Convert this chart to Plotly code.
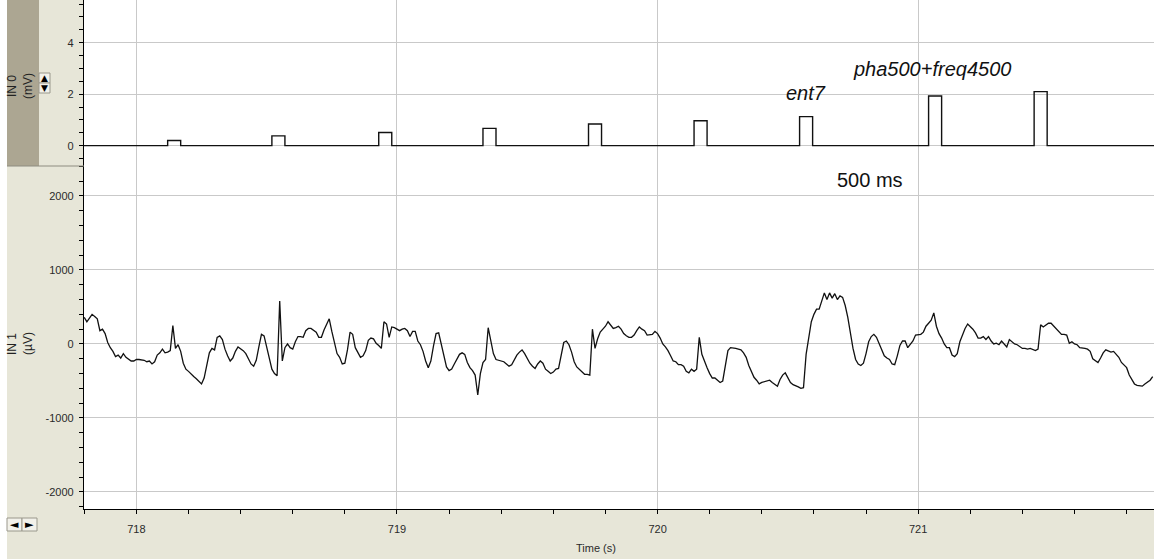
import numpy as np
import plotly.graph_objects as go

# ---- IN 0: stimulus channel (mV) ----
pulse_onsets = [718.12, 718.52, 718.93, 719.33, 719.735, 720.14, 720.545, 721.04, 721.445]
pulse_heights = [0.2, 0.38, 0.51, 0.67, 0.84, 0.97, 1.13, 1.93, 2.1]
pulse_length = 0.05

# ---- IN 1: recorded signal (µV), FS samples per second from T0 ----
T0 = 717.80
FS = 100
in1_uv = [
    360, 300, 350, 400, 370, 340, 180, 200, 140, 20,
    -50, -100, -170, -150, -190, -130, -180, -200, -230, -230,
    -210, -210, -210, -220, -240, -230, -270, -240, -150, -120,
    -70, -120, -110, -90, 250, -60, -10, -100, -260, -340,
    -370, -410, -440, -470, -510, -540, -460, -300, -120, -60,
    -80, 90, 110, 60, -70, -160, -230, -190, -100, -40,
    -60, -90, -130, -210, -270, -300, -220, -40, 130, 110,
    -40, -220, -340, -400, -430, 580, -230, -50, 0, -50,
    -70, 30, 100, 100, 90, 180, 210, 210, 190, 160,
    90, 90, 190, 270, 340, 170, 10, -130, -180, -270,
    -260, -80, 160, 130, -50, -110, -180, -160, -90, 50,
    80, 70, 10, -20, -60, 300, 270, 90, 230, 220,
    200, 180, 200, 210, 180, 100, 170, 170, 40, -10,
    -100, -230, -320, -230, -30, 140, 150, 10, -160, -310,
    -360, -340, -270, -210, -140, -120, -140, -250, -320, -360,
    -420, -690, -400,
    -250, -210, 220, 20, -130, -210, -220,
    -220, -240, -270, -300, -280, -210, -150, -110, -80, -130,
    -200, -260, -300, -330, -270, -230, -260, -340, -370, -400,
    -380, -340, -330, -150, 20, 40, -10, -110, -240, -310,
    -340, -380, -410, -410, -420, 200, -60, 70, 160, 200,
    240, 300, 250, 210, 220, 240, 200, 140, 110, 90,
    90, 120, 180, 230, 200, 180, 120, 130, 130, 170,
    140, 80, 0, -40, -90, -160, -230, -240, -280, -280,
    -300, -370, -390, -340, -370, -340, 90, -140, -240, -320,
    -400, -460, -460, -490, -520, -500, -320, -90, -50, -50,
    -60, -70, -80, -120, -180, -290, -370, -450, -490, -540,
    -520, -510, -500, -490, -520, -540, -570, -480, -420, -390,
    -450, -520, -550, -560, -580, -600, -590, -140, 110, 300,
    400, 470, 470,
    570, 690, 600, 690, 620, 680, 600,
    650, 630, 520, 360, 140, -60, -210, -270, -290, -260,
    -130, 30, 100, 130, 90, 10, -60, -160, -190, -210,
    -270, -280, -160, -20, 40, 40, -50, -10, 40, 120,
    130, 130, 160, 240, 280, 320, 420, 240, 140, 80,
    0, -50, -50, -150, -170, -130, 30, 120, 210, 270,
    240, 200, 150, 80, 80, 100, 60, 100, 40, 0,
    10, -10, 40, 0, -40, 60, 30, 0, -10, -30,
    -60, -60, -70, -60, -70, -90, -70, 260, 230, 260,
    280, 280, 240, 200, 160, 130, 130, 120, 10, 30,
    0, -10, -50, -50, -60, -70, -100, -200, -220, -250,
    -190, -120, -80, -90, -110, -100, -140, -180, -250, -280,
    -320, -420, -480, -540, -560, -570, -570, -540, -520, -490,
    -440,
]

# axis extents and tick labels
t_range = [717.799, 721.905]
in0_range = [-0.79, 5.66]
in1_range = [-2230, 2405]
x_ticks = [718, 719, 720, 721]
x_ticktext = ["718", "719", "720", "721"]
in0_ticks = [0, 2, 4]
in0_ticktext = ["0", "2", "4"]
in1_ticks = [-2000, -1000, 0, 1000, 2000]
in1_ticktext = ["-2000", "-1000", "0", "1000", "2000"]

# build the stimulus step trace from onsets / amplitudes
step_t = [t_range[0]]
step_v = [0.0]
for on, h in zip(pulse_onsets, pulse_heights):
    step_t += [on, on, on + pulse_length, on + pulse_length]
    step_v += [0.0, h, h, 0.0]
step_t.append(t_range[1])
step_v.append(0.0)

t_in1 = T0 + np.arange(len(in1_uv)) / FS

W, H = 1154, 559
ML, MB = 84, 50
plot_h = H - MB
split_px = 166                       # panel boundary from the top
split = (plot_h - split_px) / plot_h

BEIGE = "#E7E6D8"
STRIP = "#ACA692"
GRID = "#C9C9C9"
FONT = "Liberation Sans, Arial, sans-serif"


def px_x(px):
    return (px - ML) / (W - ML)


def px_y(py):
    return (plot_h - py) / plot_h


fig = go.Figure()
fig.add_trace(go.Scatter(x=step_t, y=step_v, mode="lines", xaxis="x2", yaxis="y2",
                         line=dict(color="#111111", width=1.4), hoverinfo="skip"))
fig.add_trace(go.Scatter(x=t_in1, y=in1_uv, mode="lines", xaxis="x", yaxis="y",
                         line=dict(color="#111111", width=1.3), hoverinfo="skip"))

tickfont = dict(family=FONT, size=11, color="#2a2a2a")

fig.update_layout(
    width=W, height=H,
    margin=dict(l=ML, r=0, t=0, b=MB),
    paper_bgcolor=BEIGE, plot_bgcolor="white",
    showlegend=False,
    xaxis=dict(domain=[0, 1], anchor="y", range=t_range,
               tickmode="array", tickvals=x_ticks, ticktext=x_ticktext,
               ticks="outside", ticklen=4, tickcolor="black", tickfont=tickfont,
               ticklabelstandoff=6,
               minor=dict(dtick=0.2, tick0=718, ticks="outside", ticklen=4,
                          tickcolor="black", showgrid=False),
               showgrid=True, gridcolor=GRID, gridwidth=1, zeroline=False,
               showline=True, linecolor="black", linewidth=1.3),
    xaxis2=dict(domain=[0, 1], anchor="y2", matches="x", range=t_range,
                tickmode="array", tickvals=x_ticks, showticklabels=False, ticks="",
                showgrid=True, gridcolor=GRID, gridwidth=1, zeroline=False, showline=False),
    yaxis=dict(domain=[0, split], anchor="x", range=in1_range,
               tickmode="array", tickvals=in1_ticks, ticktext=in1_ticktext,
               ticks="outside", ticklen=4, tickcolor="black", tickfont=tickfont,
               ticklabelstandoff=3,
               minor=dict(dtick=200, tick0=0, ticks="outside", ticklen=4,
                          tickcolor="black", showgrid=False),
               showgrid=True, gridcolor=GRID, gridwidth=1, zeroline=False,
               showline=True, linecolor="black", linewidth=1.3),
    yaxis2=dict(domain=[split, 1], anchor="x2", range=in0_range,
                tickmode="array", tickvals=in0_ticks, ticktext=in0_ticktext,
                ticks="outside", ticklen=4, tickcolor="black", tickfont=tickfont,
                ticklabelstandoff=3,
                minor=dict(dtick=0.5, tick0=0, ticks="outside", ticklen=4,
                           tickcolor="black", showgrid=False),
                showgrid=True, gridcolor=GRID, gridwidth=1, zeroline=False,
                showline=True, linecolor="black", linewidth=1.3),
)

shapes = [
    # white border on the far left
    dict(type="rect", xref="paper", yref="paper", x0=px_x(0), x1=px_x(7),
         y0=px_y(H), y1=1, fillcolor="white", line=dict(width=0), layer="below"),
    # channel-name strip of the IN 0 panel
    dict(type="rect", xref="paper", yref="paper", x0=px_x(7), x1=px_x(39),
         y0=split, y1=1, fillcolor=STRIP, line=dict(width=0), layer="below"),
    # separator between the two channel headers
    dict(type="line", xref="paper", yref="paper", x0=px_x(7), x1=0,
         y0=split, y1=split, line=dict(color="#8E8C80", width=1)),
    # scale buttons
    dict(type="rect", xref="paper", yref="paper", x0=px_x(39), x1=px_x(50),
         y0=px_y(83), y1=px_y(73), fillcolor="#F2F1EA", line=dict(color="#9A988C", width=1)),
    dict(type="rect", xref="paper", yref="paper", x0=px_x(39), x1=px_x(50),
         y0=px_y(93), y1=px_y(83), fillcolor="#F2F1EA", line=dict(color="#9A988C", width=1)),
    # scroll buttons
    dict(type="rect", xref="paper", yref="paper", x0=px_x(7), x1=px_x(22),
         y0=px_y(531), y1=px_y(518), fillcolor="#F2F1EA", line=dict(color="#9A988C", width=1)),
    dict(type="rect", xref="paper", yref="paper", x0=px_x(22), x1=px_x(37),
         y0=px_y(531), y1=px_y(518), fillcolor="#F2F1EA", line=dict(color="#9A988C", width=1)),
]
fig.update_layout(shapes=shapes)

side = dict(family=FONT, size=12, color="#222222")
sym = dict(family="DejaVu Sans", size=9, color="black")
ann = [
    dict(text="IN 0", x=px_x(12), y=px_y(86), textangle=-90, font=side),
    dict(text="(mV)", x=px_x(28), y=px_y(86), textangle=-90, font=side),
    dict(text="IN 1", x=px_x(12), y=px_y(344), textangle=-90, font=side),
    dict(text="(µV)", x=px_x(28), y=px_y(344), textangle=-90, font=side),
    dict(text="▲", x=px_x(44.5), y=px_y(78), font=sym),
    dict(text="▼", x=px_x(44.5), y=px_y(88), font=sym),
    dict(text="◄", x=px_x(14.5), y=px_y(524.5), font=dict(family="DejaVu Sans", size=11, color="black")),
    dict(text="►", x=px_x(29.5), y=px_y(524.5), font=dict(family="DejaVu Sans", size=11, color="black")),
    dict(text="Time (s)", x=px_x(596), y=px_y(548), font=dict(family=FONT, size=11, color="#2a2a2a")),
]
for a in ann:
    a.update(xref="paper", yref="paper", showarrow=False, xanchor="center", yanchor="middle")

# event labels on the traces
labels = [
    dict(text="<i>ent7</i>", x=720.57, y=2.05, xref="x2", yref="y2"),
    dict(text="<i>pha500+freq4500</i>", x=721.053, y=2.97, xref="x2", yref="y2"),
    dict(text="500 ms", x=720.815, y=2216, xref="x", yref="y"),
]
for a in labels:
    a.update(showarrow=False, xanchor="center", yanchor="middle",
             font=dict(family=FONT, size=20, color="#111111"))

fig.update_layout(annotations=ann + labels)

fig.write_html("out.html", config={"displayModeBar": False},
               post_script="document.body.style.margin='0';")
